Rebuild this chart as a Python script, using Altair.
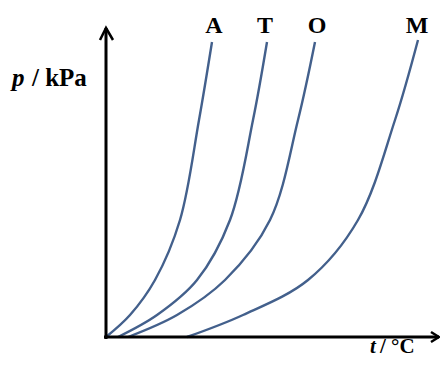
import altair as alt
import pandas as pd

# Curve values (arbitrary units: t across, p up)
a_t = [0, 24, 49, 74, 93, 106]
a_p = [0, 22, 57, 117, 217, 295]
t_t = [12, 51, 91, 124, 147, 161]
t_p = [0, 22, 57, 117, 217, 295]
o_t = [22, 71, 119, 164, 192, 209]
o_p = [0, 22, 57, 117, 217, 295]
m_t = [81, 137, 202, 252, 289, 312]
m_p = [0, 22, 57, 117, 217, 297]

names = ["A", "T", "O", "M"]
label_t = [108, 159, 211, 311]
label_p = [304, 304, 304, 304]

rows = []
for name, ts, ps in zip(names, [a_t, t_t, o_t, m_t], [a_p, t_p, o_p, m_p]):
    for i, (tv, pv) in enumerate(zip(ts, ps)):
        rows.append({"s": name, "t": tv, "p": pv, "i": i})
curves = pd.DataFrame(rows)

xs = alt.Scale(domain=[-98, 334], nice=False, zero=False)
ys = alt.Scale(domain=[-21, 329], nice=False, zero=False)
X = lambda f: alt.X(f, type="quantitative", scale=xs, axis=None)
Y = lambda f: alt.Y(f, type="quantitative", scale=ys, axis=None)

curve_layer = alt.Chart(curves).mark_line(
    interpolate="catmull-rom", color="#43608c", strokeWidth=2.4
).encode(x=X("t"), y=Y("p"), detail="s:N", order="i:Q")

axes = pd.DataFrame({"x1": [0, -2], "y1": [-2, 0], "x2": [0, 333], "y2": [309, 0]})
axis_layer = alt.Chart(axes).mark_rule(color="black", strokeWidth=3).encode(
    x=X("x1"), y=Y("y1"), x2="x2:Q", y2="y2:Q"
)

heads = pd.DataFrame({
    "h": ["y", "y", "y", "x", "x", "x"],
    "x": [-6, 0, 7, 325, 333, 325],
    "y": [297, 309, 297, 5, 0, -5],
    "i": [0, 1, 2, 0, 1, 2],
})
head_layer = alt.Chart(heads).mark_line(color="black", strokeWidth=2.5).encode(
    x=X("x"), y=Y("y"), detail="h:N", order="i:Q"
)

labels = pd.DataFrame({"s": names, "t": label_t, "p": label_p})
label_layer = alt.Chart(labels).mark_text(
    font="Liberation Serif", fontSize=24, fontWeight="bold", color="black",
    align="center", baseline="alphabetic"
).encode(x=X("t"), y=Y("p"), text="s:N")

ttl = pd.DataFrame({
    "txt": ["p", "/ kPa", "t", "/ °C"],
    "x": [-94, -74, 264, 274],
    "y": [251, 251, -16, -16],
    "st": ["italic", "normal", "italic", "normal"],
    "fs": [25, 25, 21, 21],
})
ttl_it = alt.Chart(ttl[ttl.st == "italic"]).mark_text(
    font="Liberation Serif", fontWeight="bold", fontStyle="italic",
    color="black", align="left", baseline="alphabetic"
).encode(x=X("x"), y=Y("y"), text="txt:N", size=alt.Size("fs:Q", scale=None, legend=None))
ttl_n = alt.Chart(ttl[ttl.st == "normal"]).mark_text(
    font="Liberation Serif", fontWeight="bold",
    color="black", align="left", baseline="alphabetic"
).encode(x=X("x"), y=Y("y"), text="txt:N", size=alt.Size("fs:Q", scale=None, legend=None))

chart = alt.layer(
    curve_layer, axis_layer, head_layer, label_layer, ttl_it, ttl_n
).properties(
    width=432, height=350, padding=0, autosize=alt.AutoSizeParams(type="none")
).configure_view(stroke=None)

chart.save("out.html", embed_options={"renderer": "svg", "actions": False})
